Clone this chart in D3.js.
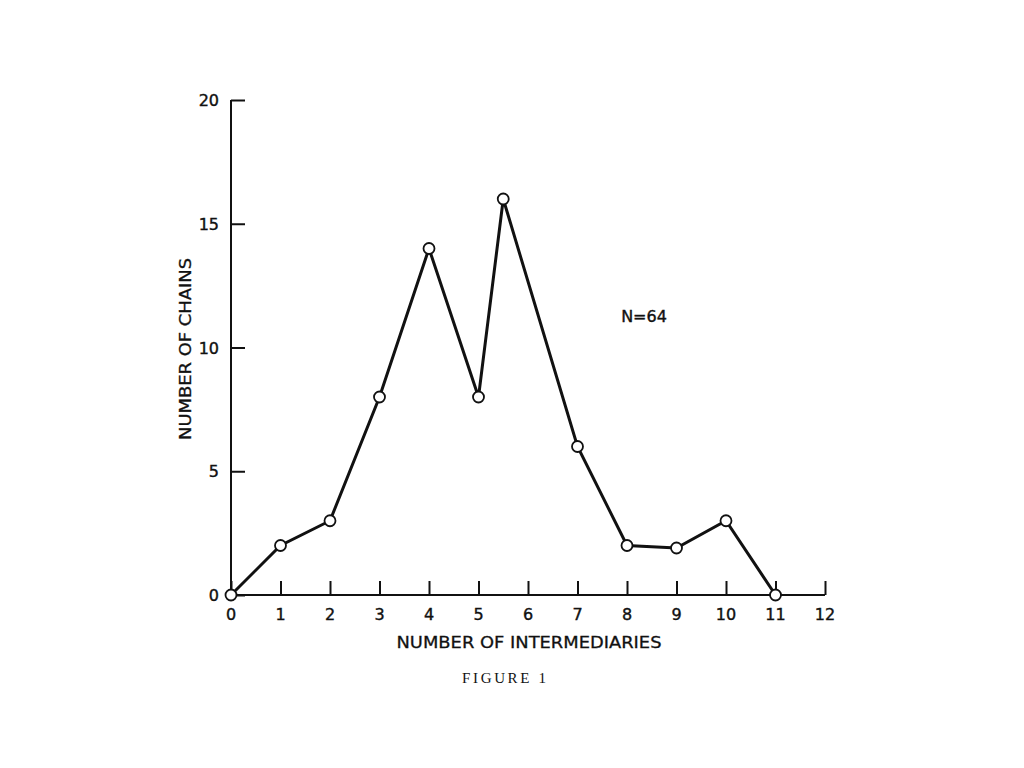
<!DOCTYPE html>
<html><head><meta charset="utf-8">
<script src="https://cdn.jsdelivr.net/npm/d3@7"></script>
<style>body{margin:0;background:#fff}</style>
</head><body>
<script>
const intermediaries = [0, 1, 2, 3, 4, 5, 5.5, 7, 8, 9, 10, 11]
const chains = [0, 2, 3, 8, 14, 8, 16, 6, 2, 1.9, 3, 0]
const xTicks = d3.range(0, 13)
const yTicks = [0, 5, 10, 15, 20]

const width = 1024, height = 768
const svg = d3.select("body").append("svg").attr("width", width).attr("height", height)
  .style("font-family", "'DejaVu Sans', sans-serif").style("fill", "#111")

const x = d3.scaleLinear().domain([0, 12]).range([231, 825])
const y = d3.scaleLinear().domain([0, 20]).range([595, 100])

// x axis, ticks pointing up
svg.append("g").attr("transform", "translate(0," + y(0) + ")")
  .call(d3.axisTop(x).tickValues(xTicks).tickSize(14).tickFormat(""))
  .call(g => g.select(".domain").attr("d", "M" + x(0) + ",0H" + x(12)))
  .call(g => g.selectAll("path,line").attr("stroke", "#111").attr("stroke-width", 2))
svg.append("g").selectAll("text").data(xTicks).enter().append("text")
  .attr("x", d => x(d)).attr("y", 620).attr("text-anchor", "middle")
  .attr("font-size", 16).attr("stroke", "#111").attr("stroke-width", 0.4).text(d => d)

// y axis, ticks pointing right
svg.append("g").attr("transform", "translate(" + x(0) + ",0)")
  .call(d3.axisRight(y).tickValues(yTicks).tickSize(14).tickFormat(""))
  .call(g => g.select(".domain").attr("d", "M0," + y(0) + "V" + y(20)))
  .call(g => g.selectAll("path,line").attr("stroke", "#111").attr("stroke-width", 2))
svg.append("g").selectAll("text").data(yTicks).enter().append("text")
  .attr("x", 219).attr("y", d => y(d) + 6).attr("text-anchor", "end")
  .attr("font-size", 16).attr("stroke", "#111").attr("stroke-width", 0.4).text(d => d)

svg.append("text").attr("transform", "translate(191,349) rotate(-90)")
  .attr("text-anchor", "middle").attr("font-size", 16).attr("stroke", "#111").attr("stroke-width", 0.3)
  .attr("textLength", 182).attr("lengthAdjust", "spacingAndGlyphs").text("NUMBER OF CHAINS")
svg.append("text").attr("x", 529).attr("y", 648).attr("text-anchor", "middle")
  .attr("font-size", 16).attr("stroke", "#111").attr("stroke-width", 0.3)
  .attr("textLength", 265).attr("lengthAdjust", "spacingAndGlyphs").text("NUMBER OF INTERMEDIARIES")
svg.append("text").attr("x", 504).attr("y", 683).attr("text-anchor", "middle")
  .attr("font-family", "'Liberation Serif', serif").attr("font-size", 15)
  .attr("textLength", 84).text("FIGURE 1")
svg.append("text").attr("x", 644).attr("y", 322).attr("text-anchor", "middle")
  .attr("font-size", 16).attr("stroke", "#111").attr("stroke-width", 0.4).text("N=64")

const pts = intermediaries.map((d, i) => [d, chains[i]])
svg.append("path").datum(pts)
  .attr("d", d3.line().x(d => x(d[0])).y(d => y(d[1])))
  .attr("fill", "none").attr("stroke", "#111").attr("stroke-width", 3)
svg.selectAll("circle").data(pts).enter().append("circle")
  .attr("cx", d => x(d[0])).attr("cy", d => y(d[1])).attr("r", 5.5)
  .attr("fill", "#fff").attr("stroke", "#111").attr("stroke-width", 1.8)
</script>
</body></html>
